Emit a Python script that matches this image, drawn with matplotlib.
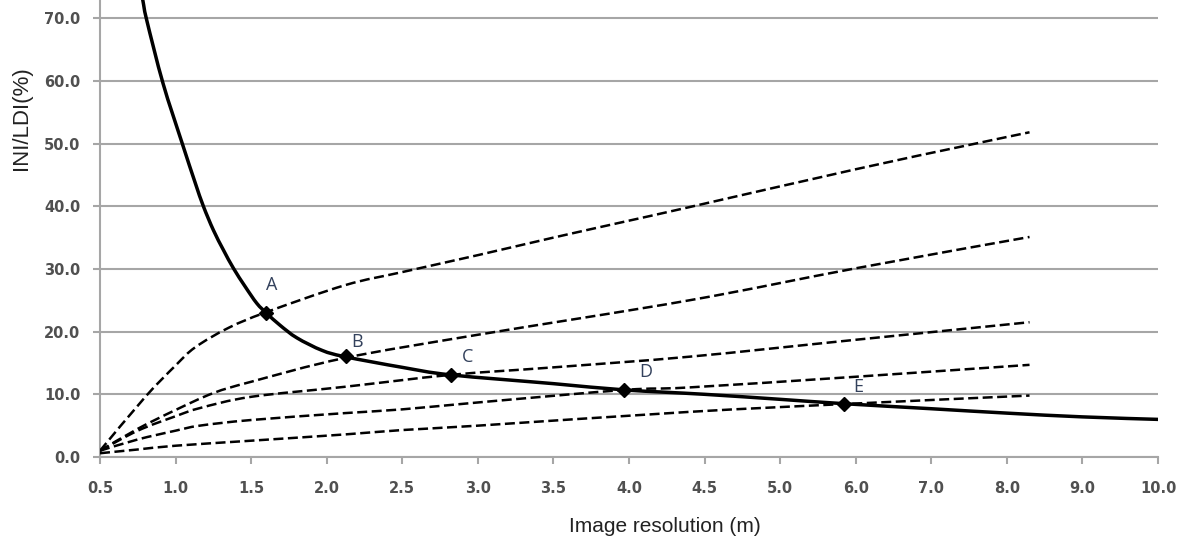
import numpy as np
import matplotlib.pyplot as plt
from matplotlib.path import Path
from matplotlib.patches import PathPatch

# category-like x axis: 0.5..5.0 by 0.5, then 6..10 by 1 (equal spacing)
tick_vals = [0.5, 1.0, 1.5, 2.0, 2.5, 3.0, 3.5, 4.0, 4.5, 5.0, 6.0, 7.0, 8.0, 9.0, 10.0]
tick_labels = ['%.1f' % v for v in tick_vals]
y_ticks = [0, 10, 20, 30, 40, 50, 60, 70]

# thick solid curve
res_main = [0.75, 0.783, 0.809, 0.917, 1.043, 1.129, 1.184, 1.25, 1.317, 1.383, 1.46, 1.538, 1.604,
            1.692, 1.803, 1.97, 2.12, 2.5, 2.82, 3.5, 3.97, 4.5, 5.0, 5.85, 7.0, 8.0, 9.0, 10.0]
val_main = [77.0, 72.9, 69.7, 59.6, 50.1, 43.8, 40.0, 36.2, 33.0, 30.1, 27.2, 24.5, 22.9,
            21.0, 19.0, 17.0, 16.0, 14.3, 13.1, 11.7, 10.7, 10.0, 9.2, 8.5, 7.7, 7.0, 6.4, 6.0]

# dashed curves
res_d1 = [0.5, 0.8, 1.0, 1.13, 1.35, 1.6, 2.12, 2.5, 3.0, 3.5, 4.0, 4.37, 6.0, 7.43, 8.3]
val_d1 = [1.0, 9.6, 14.6, 17.5, 20.6, 23.1, 27.4, 29.5, 32.2, 35.0, 37.7, 39.7, 45.9, 49.6, 51.8]
res_d2 = [0.5, 0.75, 1.0, 1.25, 1.5, 2.12, 3.0, 4.4, 6.0, 8.3]
val_d2 = [1.0, 4.5, 7.5, 10.2, 12.0, 15.8, 19.5, 25.0, 30.1, 35.1]
res_d3 = [0.5, 0.75, 1.0, 1.16, 1.5, 2.12, 2.82, 3.5, 4.4, 6.0, 8.3]
val_d3 = [1.0, 4.2, 6.5, 7.8, 9.6, 11.2, 13.1, 14.3, 16.0, 18.7, 21.5]
res_d4 = [0.5, 0.75, 1.0, 1.16, 1.5, 2.12, 2.5, 3.0, 3.97, 4.4, 6.0, 8.3]
val_d4 = [1.0, 2.8, 4.2, 5.0, 5.9, 7.0, 7.6, 8.7, 10.7, 11.1, 12.8, 14.7]
res_d5 = [0.5, 0.75, 1.0, 1.5, 2.12, 2.5, 3.0, 4.4, 5.85, 8.3]
val_d5 = [0.6, 1.2, 1.8, 2.6, 3.6, 4.3, 5.0, 7.2, 8.45, 9.8]

# intersection points
pt_labels = ['A', 'B', 'C', 'D', 'E']
pt_res = [1.6, 2.13, 2.82, 3.97, 5.85]
pt_val = [23.0, 16.1, 13.1, 10.7, 8.45]
pt_offsets = [(4, 20), (8, 10), (12, 13), (15, 13), (10, 12)]


def forward(r):
    r = np.asarray(r, dtype=float)
    return np.where(r <= 5.0, (r - 0.5) / 0.5, 9.0 + (r - 5.0))


def inverse(p):
    p = np.asarray(p, dtype=float)
    return np.where(p <= 9.0, 0.5 + 0.5 * p, 5.0 + (p - 9.0))


def smooth_path(res, val):
    # smoothed line like Excel: cubic bezier through the points (in axis position space)
    px = forward(res)
    py = np.asarray(val, dtype=float)
    P = np.column_stack([px, py])
    Q = np.vstack([P[0], P, P[-1]])
    verts = [P[0]]
    codes = [Path.MOVETO]
    for k in range(len(P) - 1):
        c1 = Q[k + 1] + (Q[k + 2] - Q[k]) / 6.0
        c2 = Q[k + 2] - (Q[k + 3] - Q[k + 1]) / 6.0
        verts += [c1, c2, Q[k + 2]]
        codes += [Path.CURVE4] * 3
    verts = np.array(verts)
    verts[:, 0] = inverse(verts[:, 0])
    return Path(verts, codes)


fig = plt.figure(figsize=(11.87, 5.41), dpi=100)
ax = fig.add_axes([100 / 1187, 84 / 541, 1058 / 1187, 457 / 541])
ax.set_xscale('function', functions=(forward, inverse))
ax.set_xlim(0.5, 10.0)
ax.set_ylim(0, 72.9)

gray = '#a6a6a6'
ax.yaxis.grid(True, color=gray, linewidth=1.5)
ax.set_axisbelow(True)
for s in ['top', 'right']:
    ax.spines[s].set_visible(False)
for s in ['left', 'bottom']:
    ax.spines[s].set_color(gray)
    ax.spines[s].set_linewidth(1.5)

ax.set_xticks(tick_vals)
ax.set_xticklabels(tick_labels)
ax.xaxis.set_minor_locator(plt.NullLocator())
ax.set_yticks(y_ticks)
ax.set_yticklabels(['%.1f' % v for v in y_ticks])
ax.tick_params(axis='both', colors=gray, length=5, width=1.5, labelsize=10.5, labelcolor='#505050')
ax.tick_params(axis='x', pad=12)
ax.tick_params(axis='y', pad=9)
for t in ax.get_xticklabels() + ax.get_yticklabels():
    t.set_fontweight('bold')

dash = (0, (4.0, 1.8))
for rr, vv in [(res_d1, val_d1), (res_d2, val_d2), (res_d3, val_d3), (res_d4, val_d4), (res_d5, val_d5)]:
    ax.add_patch(PathPatch(smooth_path(rr, vv), fill=False, edgecolor='black', linewidth=1.8,
                           linestyle=dash, zorder=3))

ax.add_patch(PathPatch(smooth_path(res_main, val_main), fill=False, edgecolor='black',
                       linewidth=2.5, zorder=4, capstyle='round'))
ax.plot(pt_res, pt_val, linestyle='none', marker='D', markersize=7, color='black', zorder=5)

for lab, r, v, off in zip(pt_labels, pt_res, pt_val, pt_offsets):
    ax.annotate(lab, (r, v), xytext=off, textcoords='offset points', ha='center', va='center',
                fontsize=13, color='#33415c', family='Open Sans')

fig.text(665 / 1187, 1 - 527 / 541, 'Image resolution (m)', ha='center', va='center',
         fontsize=15, family='Liberation Sans', color='#222222')
fig.text(22 / 1187, 1 - 118 / 541, 'INI/LDI(%)', ha='center', va='center', rotation=90,
         fontsize=16, family='Liberation Sans', color='#222222')

fig.savefig('out.png', dpi=100)
